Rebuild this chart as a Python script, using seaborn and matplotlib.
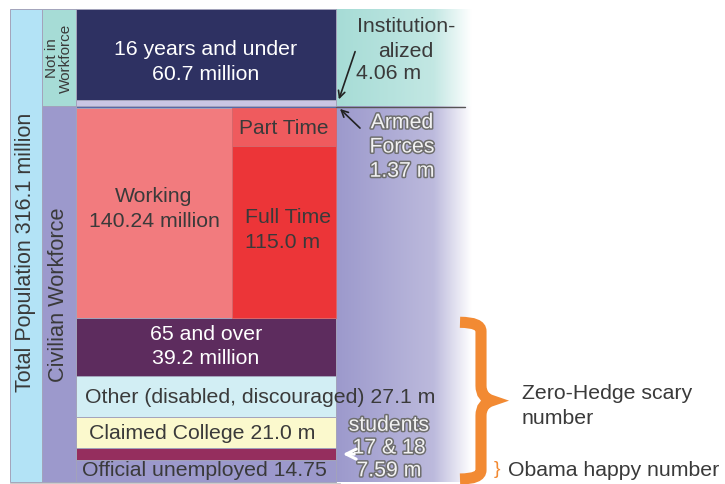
import numpy as np
import matplotlib
matplotlib.use("Agg")
import matplotlib.pyplot as plt
import matplotlib.patheffects as pe
from matplotlib.path import Path
from matplotlib.patches import PathPatch
from matplotlib.colors import to_rgb
import seaborn as sns

# Data (millions)
total_population = 316.1
main_labels = ["16 years and under", "Institutionalized", "Armed Forces", "Working",
               "65 and over", "Other", "Claimed College", "Students 17 & 18",
               "Official unemployed"]
main_values = [60.7, 4.06, 1.37, 140.24, 39.2, 27.1, 21.0, 7.59, 14.75]
main_colors = ["#2e3162", "#c9c6e3", "#5868a8", "#f27b7e", "#5d2c5e",
               "#d2eef4", "#fbf9cd", "#952e5e", "#9c99cc"]
working_labels = ["Part Time", "Full Time"]
working_values = [25.24, 115.0]
working_colors = ["#ef5b5e", "#ec3538"]
not_in_workforce = 60.7 + 4.06

sns.set_theme(style="white")
plt.rcParams["font.family"] = ["Liberation Sans", "DejaVu Sans"]

fig = plt.figure(figsize=(7.25, 4.85), dpi=100)
ax = fig.add_axes([0, 0, 1, 1])
ax.axis("off")

# pixel scale: 473 px of height for the whole population
s = 473 / total_population
ax.set_xlim(0, 725)
ax.set_ylim((485 - 10) / s, -10 / s)


def py(px):
    return (px - 10) / s


edge = "#a3a3bb"
tops = np.concatenate([[0], np.cumsum(main_values)[:-1]])
centers = tops + np.array(main_values) / 2

# side strips
ax.bar(26, total_population, bottom=0, width=32, color="#b3e3f6", edgecolor=edge, linewidth=0.7)
ax.bar(59, not_in_workforce, bottom=0, width=34, color="#a6dcd6", edgecolor=edge, linewidth=0.7)
ax.bar(59, total_population - not_in_workforce, bottom=not_in_workforce, width=34,
       color="#9c99cc", edgecolor=edge, linewidth=0.7)

# main column
ax.bar(206, main_values, bottom=tops, width=260, color=main_colors, edgecolor=edge, linewidth=0.7)
w_top = tops[3]
w_tops = w_top + np.concatenate([[0], np.cumsum(working_values)[:-1]])
ax.bar(284, working_values, bottom=w_tops, width=104, color=working_colors,
       edgecolor="#d8666a", linewidth=0.7)


# right column gradients
def gradient(c):
    t = np.linspace(0, 1, 200)
    mix = np.where(t < 0.72, t * 0.45, 0.324 + (t - 0.72) / 0.28 * 0.676)
    rgb = np.array(to_rgb(c))
    row = rgb[None, :] * (1 - mix[:, None]) + mix[:, None]
    return row[None, :, :]


ax.imshow(gradient("#a6dcd6"), extent=[336, 472, not_in_workforce, 0], aspect="auto", zorder=0.5)
ax.imshow(gradient("#9c99cc"), extent=[336, 472, total_population, not_in_workforce + 0.5],
          aspect="auto", zorder=0.5)
ax.plot([336, 465], [py(108), py(108)], color="#555555", lw=1)
ax.plot([10, 340], [total_population + 0.8, total_population + 0.8], color="#cccccc", lw=0.8)

dark = "#3a3a3a"
fs = 15.3
ls = 1.35
ax.text(206, py(62), "16 years and under\n60.7 million", color="white", ha="center",
        va="center", fontsize=fs, linespacing=ls)
ax.text(154, py(209), "Working\n140.24 million", color=dark, ha="center", va="center",
        fontsize=fs, linespacing=ls)
ax.text(284, py(129), working_labels[0], color=dark, ha="center", va="center", fontsize=15)
ax.text(245, py(230), "Full Time\n115.0 m", color=dark, ha="left", va="center",
        fontsize=fs, linespacing=ls)
ax.text(206, centers[4] - 1, "65 and over\n39.2 million", color="white", ha="center",
        va="center", fontsize=fs, linespacing=ls)
ax.text(85, centers[5], "Other (disabled, discouraged) 27.1 m", color=dark, ha="left",
        va="center", fontsize=fs)
ax.text(89, centers[6], "Claimed College 21.0 m", color=dark, ha="left", va="center", fontsize=fs)
ax.text(82, py(471), "Official unemployed 14.75", color=dark, ha="left", va="center", fontsize=fs)

ax.text(26, total_population / 2 + 4, "Total Population 316.1 million", color=dark, rotation=90,
        ha="center", va="center", fontsize=15.5)
ax.text(59, py(295), "Civilian Workforce", color=dark, rotation=90, ha="center",
        va="center", fontsize=15.7)
ax.text(59, py(58), "Not in\nWorkforce", color=dark, rotation=90, ha="center", va="center",
        fontsize=11, linespacing=1.05)

ax.text(406, py(39), "Institution-\nalized", color=dark, ha="center", va="center",
        fontsize=fs, linespacing=ls)
ax.text(356, py(74), "4.06 m", color=dark, ha="left", va="center", fontsize=fs)

outline = [pe.Stroke(linewidth=2.2, foreground="#6e6e6e"), pe.Normal()]
ax.text(402, py(148), "Armed\nForces\n1.37 m", color="#f2f2f2", ha="center", va="center",
        fontsize=fs, linespacing=ls, path_effects=outline)
ax.text(389, py(449), "students\n17 & 18\n7.59 m", color="#f2f2f2", ha="center", va="center",
        fontsize=fs, linespacing=1.25, path_effects=outline)

# arrows
ax.annotate("", xy=(338, py(103)), xytext=(356, py(50)),
            arrowprops=dict(arrowstyle="->", color="#222222", lw=1.2))
ax.annotate("", xy=(338, py(108)), xytext=(362, py(131)),
            arrowprops=dict(arrowstyle="->", color="#222222", lw=1.2))
ax.annotate("", xy=(340, centers[7]), xytext=(357, centers[7]),
            arrowprops=dict(arrowstyle="->", color="white", lw=2.2, mutation_scale=18))

# big orange brace over everything not working
b0 = tops[4] + 3
b1 = total_population - 2
bm = (b0 + b1) / 2
verts = [(460, b0), (481, b0), (481, b0 + 6),
         (481, bm - 10), (481, bm - 2), (492, bm),
         (481, bm + 2), (481, bm + 10),
         (481, b1 - 6), (481, b1), (460, b1)]
codes = [Path.MOVETO, Path.CURVE3, Path.CURVE3,
         Path.LINETO, Path.CURVE3, Path.CURVE3,
         Path.CURVE3, Path.CURVE3,
         Path.LINETO, Path.CURVE3, Path.CURVE3]
ax.add_patch(PathPatch(Path(verts, codes), facecolor="none", edgecolor="#f28a33", lw=8,
                       capstyle="butt"))
ax.text(522, py(406), "Zero-Hedge scary\nnumber", color=dark, ha="left", va="center",
        fontsize=fs, linespacing=ls)
ax.text(497, py(470), "}", color="#f28a33", ha="center", va="center", fontsize=14)
ax.text(508, py(471), "Obama happy number", color=dark, ha="left", va="center", fontsize=fs)

fig.savefig("out.png", dpi=100)
